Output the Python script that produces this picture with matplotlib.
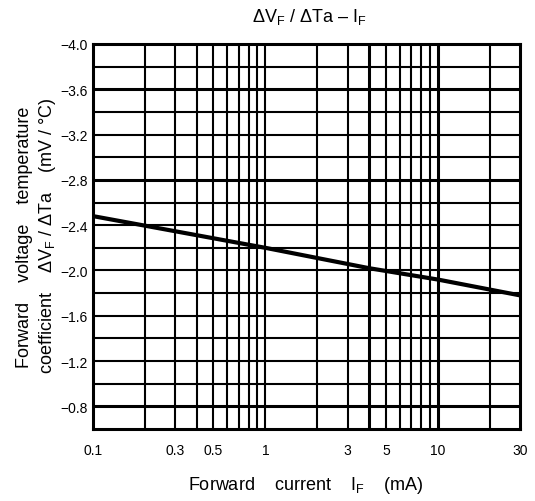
import matplotlib.pyplot as plt
import numpy as np

plt.rcParams['font.family'] = ['Liberation Sans', 'DejaVu Sans']
plt.rcParams['mathtext.fontset'] = 'custom'
plt.rcParams['mathtext.rm'] = 'Liberation Sans'

# forward current (mA) and temperature coefficient (mV/°C)
current = [0.1, 1, 4, 10, 30]
coeff = [-2.48, -2.20, -2.02, -1.92, -1.78]

x_ticks = [0.1, 0.3, 0.5, 1, 3, 5, 10, 30]
x_labels = ["0.1", "0.3", "0.5", "1", "3", "5", "10", "30"]
y_ticks = [-4.0, -3.6, -3.2, -2.8, -2.4, -2.0, -1.6, -1.2, -0.8]

fig = plt.figure(figsize=(5.35, 5.02), dpi=100)
ax = fig.add_axes([93 / 535, 1 - 430 / 502, 427 / 535, 385 / 502])

ax.set_xscale("log")
ax.set_xlim(0.1, 30)
ax.set_ylim(-0.6, -4.0)

# grid: vertical at 1-9 of each decade, horizontal every 0.2
for dec in [0.1, 1, 10]:
    for m in range(1, 10):
        v = dec * m
        if 0.1 < v < 30:
            lw = 2.2 if v in (4, 10) else 1.5
            ax.axvline(v, color="black", lw=lw, zorder=1)
for v in np.arange(-3.8, -0.6, 0.2):
    v = round(v, 1)
    lw = 2.2 if v in (-3.6, -2.8, -0.8) else 1.5
    ax.axhline(v, color="black", lw=lw, zorder=1)

ax.plot(current, coeff, color="black", lw=3, zorder=3)

ax.set_xticks(x_ticks)
ax.set_xticklabels(x_labels)
ax.xaxis.set_minor_locator(plt.NullLocator())
ax.set_yticks(y_ticks)
ax.set_yticklabels([f"{v:.1f}".replace("-", "\u2212") for v in y_ticks])
ax.tick_params(length=0, labelsize=10)
ax.tick_params(axis="x", pad=10)
ax.tick_params(axis="y", pad=4)
for s in ax.spines.values():
    s.set_linewidth(2.2)

fig.text(309 / 535, 1 - 17 / 502, r"$\mathregular{\Delta V_F}$ / $\mathregular{\Delta Ta}$ – $\mathregular{I_F}$",
         ha="center", va="center", fontsize=13)
fig.text(306 / 535, 1 - 486 / 502, r"Forward    current    $\mathregular{I_F}$    (mA)",
         ha="center", va="center", fontsize=13)
fig.text(25 / 535, 1 - 237 / 502, "Forward    voltage    temperature",
         rotation=90, ha="center", va="center", fontsize=13)
fig.text(48 / 535, 1 - 236 / 502,
         r"coefficient    $\mathregular{\Delta V_F}$ / $\mathregular{\Delta Ta}$    (mV / °C)",
         rotation=90, ha="center", va="center", fontsize=13)

fig.savefig("out.png", dpi=100)
